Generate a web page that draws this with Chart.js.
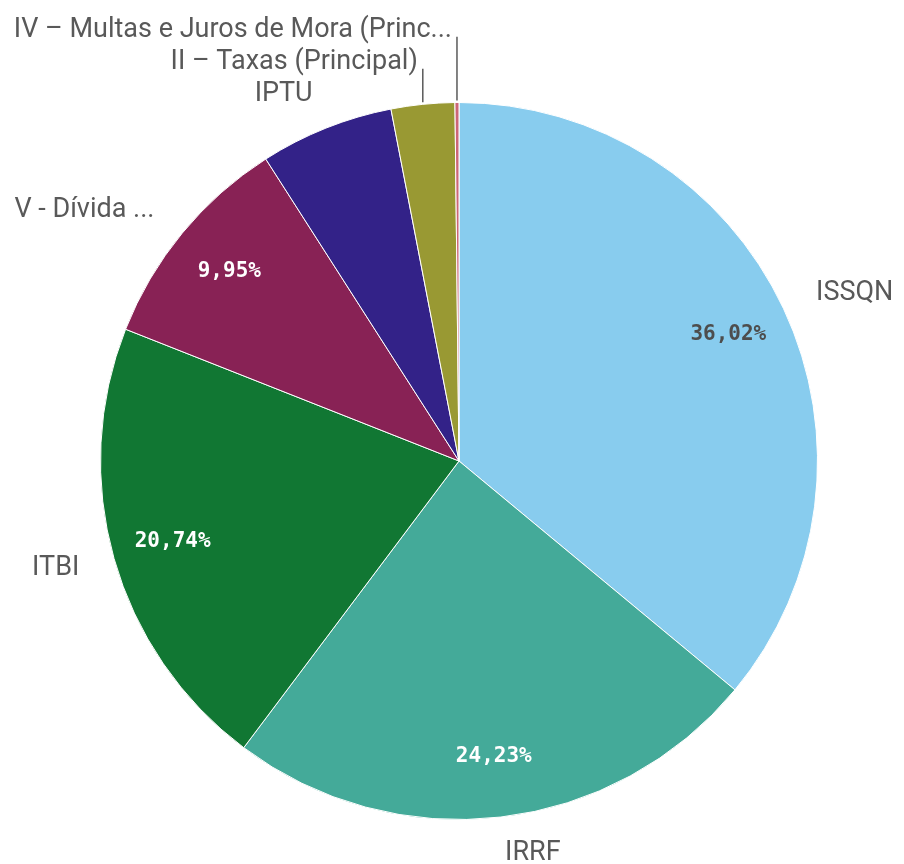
<!DOCTYPE html>
<html>
<head>
<meta charset="utf-8">
<script src="https://cdn.jsdelivr.net/npm/chart.js@4.4.1/dist/chart.umd.min.js"></script>
<style>
  html, body { margin: 0; padding: 0; background: #fff; overflow: hidden; }
</style>
</head>
<body>
<canvas id="pieChart" width="904" height="864"></canvas>
<script>
// receitas por tributo

const categories = [
  'ISSQN',
  'IRRF',
  'ITBI',
  'V - Dívida ...',
  'IPTU',
  'II – Taxas (Principal)',
  'IV – Multas e Juros de Mora (Princ...'
];
const shares = [36.02, 24.23, 20.74, 9.95, 6.02, 2.86, 0.18];
const colors = ['#88ccee', '#44aa99', '#117733', '#882255', '#332288', '#999933', '#cc6677'];
const pctColors = ['#4d4d4d', '#ffffff', '#ffffff', '#ffffff', '#ffffff', '#ffffff', '#ffffff'];

const labelFont = '27px Roboto';
const pctFont = 'bold 21px "DejaVu Sans Mono"';

const pieLabels = {
  id: 'pieLabels',
  afterDatasetsDraw(chart) {
    const ctx = chart.ctx;
    const arcs = chart.getDatasetMeta(0).data;
    let prevLeftY = null;
    ctx.save();
    arcs.forEach((arc, i) => {
      const p = arc.getProps(['x', 'y', 'startAngle', 'endAngle', 'outerRadius'], true);
      const mid = (p.startAngle + p.endAngle) / 2;
      const cos = Math.cos(mid), sin = Math.sin(mid);

      // percent inside slice
      if (shares[i] >= 8) {
        const r = p.outerRadius * 0.83;
        ctx.font = pctFont;
        ctx.fillStyle = pctColors[i];
        ctx.textAlign = 'center';
        ctx.textBaseline = 'middle';
        ctx.fillText(shares[i].toFixed(2).replace('.', ',') + '%', p.x + cos * r, p.y + sin * r);
      }

      // category label outside
      const r2 = p.outerRadius + 36;
      let lx = p.x + cos * r2;
      let ly = p.y + sin * r2;
      const left = cos < 0;
      ctx.font = labelFont;
      ctx.fillStyle = '#595959';
      ctx.textBaseline = 'middle';
      ctx.textAlign = left ? 'right' : 'left';

      if (left && sin < 0) {
        if (prevLeftY !== null && ly > prevLeftY - 32) {
          // pushed up: draw a leader line from the slice edge
          ly = prevLeftY - 32;
          const ex = p.x + cos * p.outerRadius;
          const ey = p.y + sin * p.outerRadius;
          ctx.strokeStyle = '#595959';
          ctx.lineWidth = 1.5;
          ctx.beginPath();
          ctx.moveTo(ex, ey - 2);
          ctx.lineTo(ex, ly + 6);
          ctx.stroke();
          lx = ex - 5;
        }
        prevLeftY = ly;
      }
      ctx.fillText(categories[i], lx, ly);
    });
    ctx.restore();
  }
};

const ctx = document.getElementById('pieChart').getContext('2d');

new Chart(ctx, {
  type: 'pie',
  data: {
    labels: categories,
    datasets: [{
      data: shares,
      backgroundColor: colors,
      borderColor: '#ffffff',
      borderWidth: 1
    }]
  },
  options: {
    responsive: false,
    animation: false,
    layout: {
      padding: { left: 100, right: 86, top: 102, bottom: 44 }
    },
    plugins: {
      legend: { display: false },
      tooltip: { enabled: false }
    }
  },
  plugins: [pieLabels]
});
</script>
</body>
</html>
